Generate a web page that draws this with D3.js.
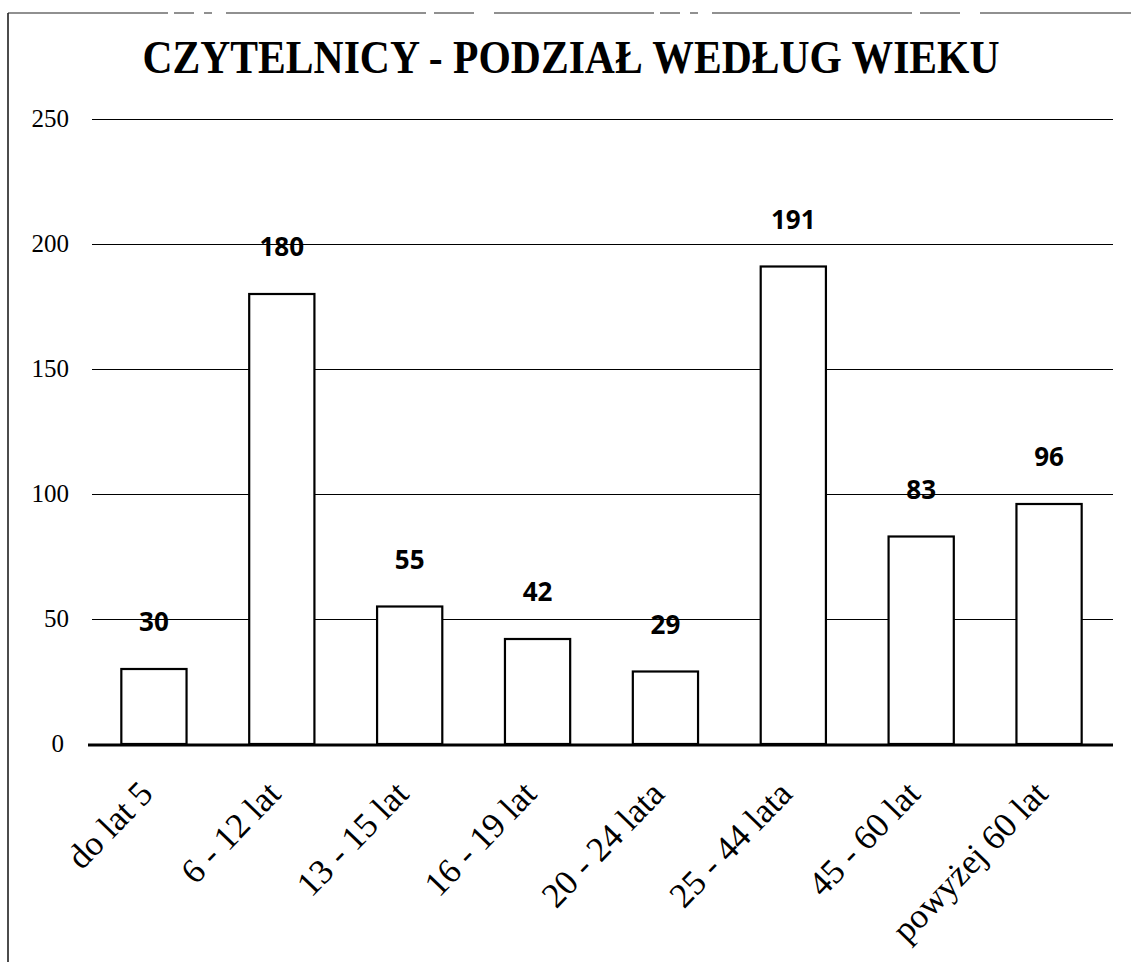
<!DOCTYPE html>
<html><head><meta charset="utf-8">
<script src="https://cdn.jsdelivr.net/npm/d3@7"></script>
<style>body{margin:0;background:#fff}</style>
</head><body>
<script>
const categories = ["do lat 5","6 - 12 lat","13 - 15 lat","16 - 19 lat","20 - 24 lata","25 - 44 lata","45 - 60 lat","powyżej 60 lat"];
const values = [30,180,55,42,29,191,83,96];
const yTicks = [0,50,100,150,200,250];
const title = "CZYTELNICY - PODZIAŁ WEDŁUG WIEKU";

const W=1131,H=962;
const svg=d3.select("body").append("svg").attr("width",W).attr("height",H);
svg.append("rect").attr("width",W).attr("height",H).attr("fill","#fff");

// frame
svg.append("line").attr("x1",8).attr("x2",8).attr("y1",13).attr("y2",H).attr("stroke","#111").attr("stroke-width",1.5);
svg.append("line").attr("x1",8).attr("x2",W).attr("y1",13).attr("y2",13).attr("stroke","#222").attr("stroke-width",1.2).attr("stroke-dasharray","160,6,20,10,8,14,200,8,40,20");

const x=d3.scaleBand().domain(categories).range([90,1113]).paddingInner(0.49).paddingOuter(0.245);
const y=d3.scaleLinear().domain([0,250]).range([744,119]);

svg.append("text").attr("x",571).attr("y",73).attr("text-anchor","middle")
  .attr("font-family","Liberation Serif, Times New Roman, serif").attr("font-weight","bold")
  .attr("font-size",46).attr("textLength",857).attr("lengthAdjust","spacingAndGlyphs").text(title);

// grid
svg.append("g").attr("shape-rendering","crispEdges").selectAll("line").data(yTicks.filter(d=>d>0)).join("line")
  .attr("x1",92).attr("x2",1113).attr("y1",d=>y(d)).attr("y2",d=>y(d))
  .attr("stroke","#000").attr("stroke-width",1);

// y labels
svg.append("g").selectAll("text").data(yTicks).join("text")
  .attr("x",d=>d===0?64:69).attr("y",d=>y(d)).attr("dy","0.33em").attr("text-anchor","end")
  .attr("font-family","Liberation Serif, Times New Roman, serif").attr("font-size",25).text(d=>d);

// bars
svg.append("g").selectAll("rect").data(values).join("rect")
  .attr("x",(d,i)=>x(categories[i])).attr("width",x.bandwidth())
  .attr("y",d=>y(d)).attr("height",d=>y(0)-y(d))
  .attr("fill","#fff").attr("stroke","#000").attr("stroke-width",2.2);

// axis line
svg.append("line").attr("x1",88).attr("x2",1113).attr("y1",y(0)+1).attr("y2",y(0)+1).attr("stroke","#000").attr("stroke-width",3);

// value labels
svg.append("g").selectAll("text").data(values).join("text")
  .attr("x",(d,i)=>x(categories[i])+x.bandwidth()/2).attr("y",d=>y(d)-47).attr("dy","0.35em")
  .attr("text-anchor","middle").attr("font-family","Open Sans, Liberation Sans, sans-serif")
  .attr("font-weight","bold").attr("font-size",26).text(d=>d);

// x labels
svg.append("g").selectAll("text").data(categories).join("text")
  .attr("transform",d=>`translate(${x(d)+x.bandwidth()/2-8},${787}) rotate(-46)`)
  .attr("text-anchor","end").attr("dy","0.35em")
  .attr("font-family","Liberation Serif, Times New Roman, serif").attr("font-size",35).text(d=>d);
</script>
</body></html>
